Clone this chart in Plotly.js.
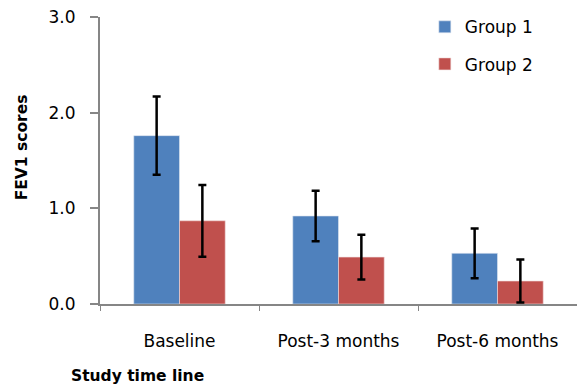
<!DOCTYPE html>
<html>
<head>
<meta charset="utf-8">
<script src="https://cdn.plot.ly/plotly-3.0.1.min.js"></script>
<style>html,body{margin:0;padding:0;background:#fff;}#chart{width:577px;height:385px;}</style>
</head>
<body>
<div id="chart"></div>
<script>
const categories = ["Baseline", "Post-3 months", "Post-6 months"];
const group1 = [1.76, 0.92, 0.53];
const group1Err = [0.41, 0.265, 0.26];
const group2 = [0.87, 0.49, 0.24];
const group2Err = [0.375, 0.235, 0.225];
const yTicks = [0, 1, 2, 3];
const yTickText = ["0.0", "1.0", "2.0", "3.0"];

const FONT = "DejaVu Sans, sans-serif";
const errStyle = {type: "data", visible: true, color: "#000", thickness: 2.5, width: 4};

const traces = [
  {type: "bar", name: "Group 1", x: categories, y: group1, legendgroup: "a",
   marker: {color: "#4F81BD", line: {color: "#dfe6f0", width: 0.6}},
   error_y: Object.assign({array: group1Err}, errStyle)},
  {type: "bar", name: "Group 2", x: categories, y: group2, legendgroup: "b",
   marker: {color: "#C0504D", line: {color: "#f0dcdc", width: 0.6}},
   error_y: Object.assign({array: group2Err}, errStyle)}
];

const layout = {
  width: 577, height: 385,
  margin: {l: 100, r: 0, t: 17, b: 81},
  paper_bgcolor: "#fff", plot_bgcolor: "#fff",
  font: {family: FONT, size: 17, color: "#000"},
  barmode: "group", bargap: 0.425, bargroupgap: 0,
  showlegend: true,
  legend: {x: 0.681, y: 1.027, xanchor: "left", yanchor: "top", bgcolor: "rgba(0,0,0,0)",
           font: {family: FONT, size: 17}, tracegroupgap: 12, traceorder: "grouped",
           itemwidth: 30},
  xaxis: {type: "category", showline: true, linecolor: "#868686", linewidth: 2,
          ticks: "outside", tickson: "boundaries", ticklen: 5, tickcolor: "#868686", tickwidth: 1,
          ticklabelstandoff: 21, tickfont: {family: FONT, size: 17}, showgrid: false, zeroline: false, fixedrange: true},
  yaxis: {range: [0, 3], tickvals: yTicks, ticktext: yTickText, showline: true, linecolor: "#868686",
          linewidth: 2, ticks: "outside", ticklen: 8, tickcolor: "#868686", tickwidth: 2,
          ticklabelstandoff: 11, tickfont: {family: FONT, size: 17}, showgrid: false, zeroline: false},
  annotations: [
    {text: "<b>FEV1 scores</b>", xref: "paper", yref: "paper", x: -0.164, y: 0.545,
     xanchor: "center", yanchor: "middle", textangle: -90, showarrow: false,
     font: {family: FONT, size: 15.5}},
    {text: "<b>Study time line</b>", xref: "paper", yref: "paper", x: -0.065, y: -0.25,
     xanchor: "left", yanchor: "middle", showarrow: false, font: {family: FONT, size: 15.5}}
  ]
};

Plotly.newPlot("chart", traces, layout, {displayModeBar: false, staticPlot: true});
</script>
</body>
</html>
